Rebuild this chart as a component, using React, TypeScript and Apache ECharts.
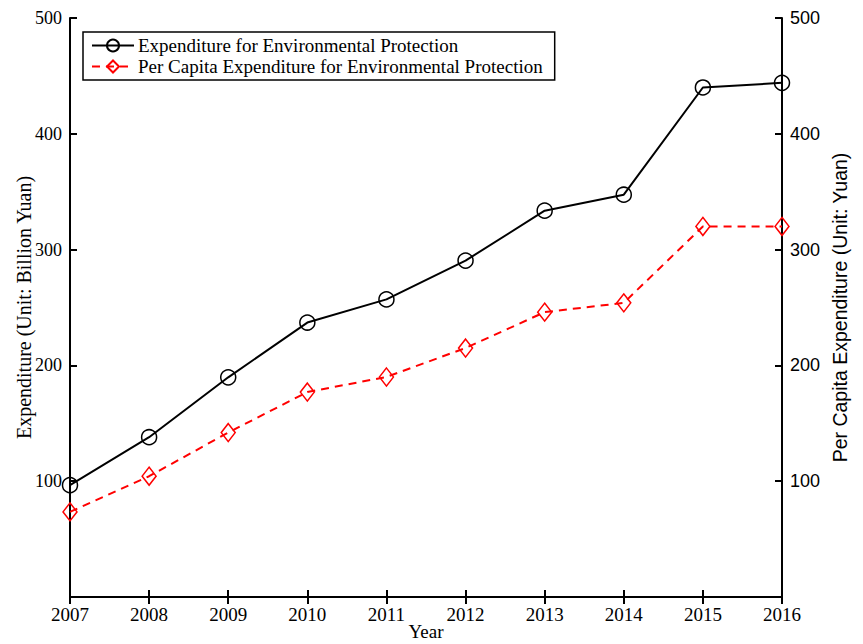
import React, { useEffect, useRef } from "react";
import * as echarts from "echarts";

const years = ["2007", "2008", "2009", "2010", "2011", "2012", "2013", "2014", "2015", "2016"];
const expenditure = [96.6, 138, 189.7, 237, 257, 290.5, 333.6, 347.4, 440, 444];
const perCapita = [73.5, 104.3, 142, 177, 190, 215, 246, 254, 320, 320];
const yTicks = [0, 100, 200, 300, 400, 500];

const SERIF = "Liberation Serif";
const SANS = "Liberation Sans";

export default function App() {
  const ref = useRef<HTMLDivElement>(null);
  useEffect(() => {
    if (!ref.current) return;
    const chart = echarts.init(ref.current, undefined, { renderer: "svg" });
    const axisLine = { show: true, lineStyle: { color: "#000", width: 2 } };
    const tick = { show: true, inside: true, length: 7, lineStyle: { color: "#000", width: 2 } };
    chart.setOption({
      animation: false,
      backgroundColor: "#fff",
      grid: { left: 70, right: 81, top: 18, bottom: 47, containLabel: false, outerBoundsMode: "none" },
      legend: {
        orient: "vertical",
        left: 83,
        top: 32,
        padding: [4, 12, 4, 8],
        itemGap: 2,
        itemWidth: 42,
        itemHeight: 15,
        borderColor: "#000",
        borderWidth: 1.5,
        backgroundColor: "#fff",
        textStyle: { fontFamily: SERIF, fontSize: 19, color: "#000", lineHeight: 19, padding: [0, 0, 0, -1] },
        data: ["Expenditure for Environmental Protection", "Per Capita Expenditure for Environmental Protection"],
      },
      xAxis: [
        {
          type: "category",
          data: years,
          boundaryGap: false,
          position: "bottom",
          axisLine,
          axisTick: { ...tick, alignWithLabel: true },
          axisLabel: { fontFamily: SERIF, fontSize: 19, color: "#000", margin: 8 },
          splitLine: { show: false },
          name: "Year",
          nameLocation: "middle",
          nameGap: 25,
          nameMoveOverlap: false,
          nameTextStyle: { fontFamily: SERIF, fontSize: 19, color: "#000" },
        },
        {
          type: "category",
          data: years,
          boundaryGap: false,
          position: "top",
          axisLine,
          axisTick: tick,
          axisLabel: { show: false },
          splitLine: { show: false },
        },
      ],
      yAxis: [
        {
          type: "value",
          min: yTicks[0],
          max: yTicks[yTicks.length - 1],
          interval: 100,
          position: "left",
          axisLine,
          axisTick: tick,
          splitLine: { show: false },
          axisLabel: {
            fontFamily: SERIF,
            fontSize: 18,
            color: "#000",
            margin: 8,
            formatter: (v: number) => (v === 0 ? "" : String(v)),
          },
          name: "Expenditure (Unit: Billion Yuan)",
          nameLocation: "middle",
          nameGap: 36,
          nameMoveOverlap: false,
          nameTextStyle: { fontFamily: SERIF, fontSize: 20, color: "#000" },
        },
        {
          type: "value",
          min: yTicks[0],
          max: yTicks[yTicks.length - 1],
          interval: 100,
          position: "right",
          axisLine,
          axisTick: tick,
          splitLine: { show: false },
          axisLabel: {
            fontFamily: SANS,
            fontSize: 18,
            color: "#000",
            margin: 8,
            formatter: (v: number) => (v === 0 ? "" : String(v)),
          },
          name: "Per Capita Expenditure (Unit: Yuan)",
          nameLocation: "middle",
          nameGap: 48,
          nameRotate: 90,
          nameMoveOverlap: false,
          nameTextStyle: { fontFamily: SANS, fontSize: 19.5, color: "#000" },
        },
      ],
      series: [
        {
          name: "Expenditure for Environmental Protection",
          type: "line",
          data: expenditure,
          xAxisIndex: 0,
          yAxisIndex: 0,
          symbol: "circle",
          symbolSize: 15,
          showAllSymbol: true,
          color: "#000",
          lineStyle: { color: "#000", width: 2 },
          itemStyle: { color: "rgba(255,255,255,0)", borderColor: "#000", borderWidth: 1.5 },
          z: 3,
        },
        {
          name: "Per Capita Expenditure for Environmental Protection",
          type: "line",
          data: perCapita,
          xAxisIndex: 0,
          yAxisIndex: 1,
          symbol: "diamond",
          symbolSize: [14, 18],
          showAllSymbol: true,
          color: "#f00",
          lineStyle: { color: "#f00", width: 2, type: [8, 6] },
          itemStyle: { color: "rgba(255,255,255,0)", borderColor: "#f00", borderWidth: 1.5 },
          z: 2,
        },
      ],
    });
    return () => chart.dispose();
  }, []);
  return (
    <div
      ref={ref}
      style={{ position: "fixed", left: 0, top: 0, width: 863, height: 644, background: "#fff" }}
    />
  );
}
